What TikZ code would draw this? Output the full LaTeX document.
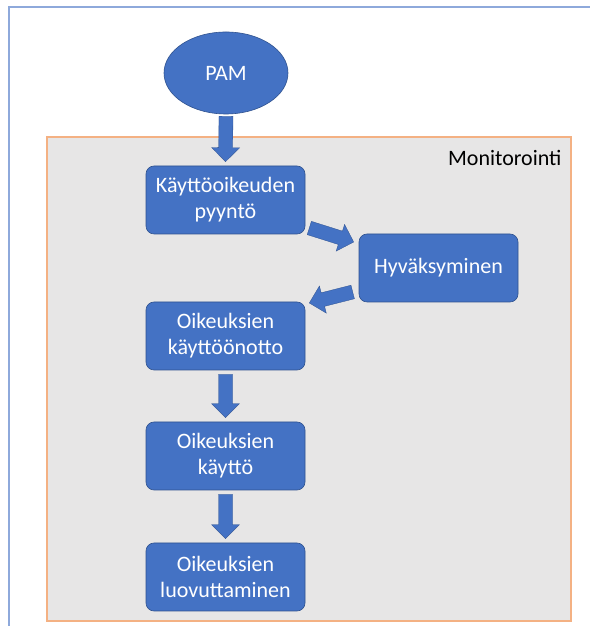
\documentclass[tikz,border=0pt]{standalone}
\usepackage{fontspec}
\setmainfont{Carlito}
\usetikzlibrary{shapes.geometric,calc}
\definecolor{boxblue}{HTML}{4472C4}
\definecolor{boxedge}{HTML}{2F528F}
\definecolor{frameblue}{HTML}{8EA9DB}
\definecolor{monorange}{HTML}{F4B183}
\definecolor{mongray}{HTML}{E7E6E6}
\tikzset{
  stepbox/.style={draw=boxedge, line width=0.6pt, fill=boxblue, rounded corners=8pt,
    minimum width=159pt, minimum height=68pt, text=white, align=center,
    font=\fontsize{22}{26}\selectfont, inner sep=2pt},
  startnode/.style={ellipse, draw=boxedge, line width=0.6pt, fill=boxblue,
    minimum width=124pt, minimum height=82pt, text=white, font=\fontsize{22}{26}\selectfont},
  blockarr/.style={fill=boxblue, draw=boxedge, line width=0.3pt, line join=miter}
}
\newcommand\blockarrow[2]{%
  \coordinate (ah) at ($(#2)!14pt!(#1)$);
  \path[blockarr] ($(#1)!7pt!90:(#2)$) -- ($(ah)!7pt!90:(#2)$) -- ($(ah)!14pt!90:(#2)$)
    -- (#2) -- ($(ah)!14pt!-90:(#2)$) -- ($(ah)!7pt!-90:(#2)$) -- ($(#1)!7pt!-90:(#2)$) -- cycle;}
\begin{document}
\begin{tikzpicture}[x=1pt,y=1pt]
\useasboundingbox (0,0) rectangle (589,626);
\fill[white] (0,0) rectangle (589,626);
% outer frame
\draw[frameblue, line width=2pt] (9,-2) -- (9,619) -- (592,619);
% monitoring area
\draw[monorange, fill=mongray, line width=2pt] (47,5) rectangle (571,489);
\node[anchor=east, font=\fontsize{22}{26}\selectfont, text=black] (mon) at (565,468) {Monitorointi};
% nodes
\node[startnode] (pam) at (226,553) {PAM};
\node[stepbox] (b1) at (225.5,426) {Käyttöoikeuden\\pyyntö};
\node[stepbox] (hyv) at (438.5,358) {Hyväksyminen};
\node[stepbox] (b2) at (225.5,290) {Oikeuksien\\käyttöönotto};
\node[stepbox] (b3) at (225.5,170) {Oikeuksien\\käyttö};
\node[stepbox] (b4) at (225.5,49) {Oikeuksien\\luovuttaminen};
% arrow end points
\coordinate (p0s) at ([yshift=-2pt]pam.south);
\coordinate (p0e) at ([yshift=4pt]b1.north);
\coordinate (p1s) at ([xshift=4pt,yshift=-28pt]b1.east);
\coordinate (p1e) at ([xshift=-5pt,yshift=26pt]hyv.west);
\coordinate (p2s) at ([xshift=-6pt,yshift=-24pt]hyv.west);
\coordinate (p2e) at ([xshift=4pt,yshift=33pt]b2.east);
\coordinate (p3s) at ([yshift=-4pt]b2.south);
\coordinate (p3e) at ([yshift=4pt]b3.north);
\coordinate (p4s) at ([yshift=-4pt]b3.south);
\coordinate (p4e) at ([yshift=4pt]b4.north);
\blockarrow{p0s}{p0e}
\blockarrow{p1s}{p1e}
\blockarrow{p2s}{p2e}
\blockarrow{p3s}{p3e}
\blockarrow{p4s}{p4e}
\end{tikzpicture}
\end{document}
